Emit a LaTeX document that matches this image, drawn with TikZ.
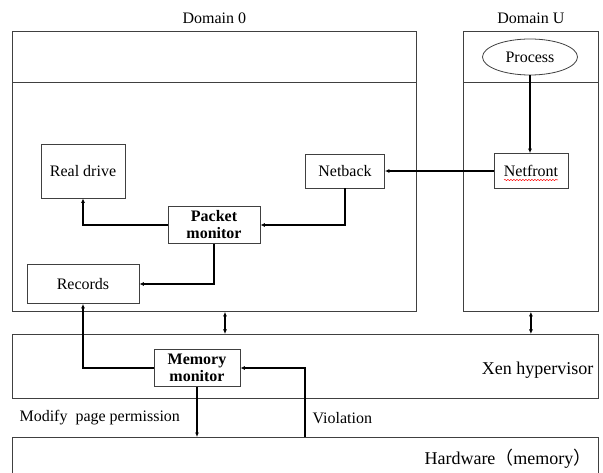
\documentclass[tikz,border=0pt]{standalone}
\usepackage{fontspec}
\setmainfont{Liberation Serif}
\newfontfamily\cjk{Noto Sans CJK SC}
\usetikzlibrary{
  arrows.meta,
  positioning,  % Function "of" (e.g. [above=of x])
  shapes.geometric, % Ellipse
  decorations.pathmorphing, % Wavy underline
}
\tikzset{
  font=\fontsize{16}{17}\selectfont,
  >={Latex[length=4.5pt,width=4pt]},
  layer/.style={
    draw=black!75,
    line width=0.8pt,
    inner sep=0pt,
    anchor=north west
  },
  my box/.style={
    draw=black!75,
    line width=0.8pt,
    inner sep=0pt,
    align=center,
    rectangle
  },
  flow/.style={
    ->,
    line width=1.2pt
  },
  both ways/.style={
    <->,
    line width=1.2pt
  },
  big text/.style={
    font=\fontsize{18}{20}\selectfont
  }
}

\begin{document}
\begin{tikzpicture}[x=1pt,y=-1pt]
\useasboundingbox (0,0) rectangle (603,473);
\clip (0,0) rectangle (603,473);
% layers
\node[layer,minimum width=404pt,minimum height=280pt] (dom0) at (12,31)  {};
\node[layer,minimum width=135pt,minimum height=280pt] (domU) at (463,31) {};
\node[layer,minimum width=586pt,minimum height=64pt]  (xen)  at (12,334) {};
\node[layer,minimum width=586pt,minimum height=60pt]  (hw)   at (12,437) {};
\node[above=4pt of dom0] (dom0lbl) {Domain 0};
\node[above=4pt of domU] (domUlbl) {Domain U};
\draw[draw=black!75,line width=0.8pt]
  ([yshift=-51pt]dom0.north west) -- ([yshift=-51pt]dom0.north east)
  ([yshift=-51pt]domU.north west) -- ([yshift=-51pt]domU.north east);
\node[big text,anchor=east] (xenlbl) at (597,370) {Xen hypervisor};
\node[big text,anchor=east] (hwlbl)  at (595,459) {Hardware{\cjk （}memory{\cjk ）}};
% components
\node[my box,ellipse,minimum width=95pt,minimum height=36pt] (proc)     at (530,57)  {Process};
\node[my box,minimum width=74pt,minimum height=35pt]         (netfront) at (531,171) {Netfront};
\node[my box,minimum width=79pt,minimum height=34pt]         (netback)  at (345,171) {Netback};
\node[my box,minimum width=84pt,minimum height=54pt]         (realdrv)  at (83,171)  {Real drive};
\node[my box,minimum width=92pt,minimum height=37pt,font=\fontsize{16}{17}\selectfont\bfseries]
                                                             (pktmon)   at (214,225) {Packet\\monitor};
\node[my box,minimum width=112pt,minimum height=39pt]        (records)  at (83,284)  {Records};
\node[my box,minimum width=86pt,minimum height=37pt,font=\fontsize{16}{17}\selectfont\bfseries]
                                                             (memmon)   at (197,368) {Memory\\monitor};
\draw[red,line width=0.5pt,decorate,decoration={snake,amplitude=0.6pt,segment length=3pt}]
  ([xshift=-27pt,yshift=-9pt]netfront.center) -- ([xshift=27pt,yshift=-9pt]netfront.center);
% connectors
\draw[flow] (proc.south) -- (proc.south |- netfront.north);
\draw[flow] (netfront) -- (netback);
\draw[flow] (netback.south) |- (pktmon.east);
\draw[flow] (pktmon.west) -| (realdrv.south);
\draw[flow] (pktmon.south) |- (records.east);
\coordinate (d0) at ([xshift=213pt]dom0.south west);
\draw[both ways] (d0) -- (d0 |- xen.north);
\draw[both ways] (domU.south) -- (domU.south |- xen.north);
\draw[flow] (memmon.west) -| (records.south);
\draw[flow] (memmon.south) -- (memmon.south |- hw.north);
\coordinate (viol) at ([xshift=293pt]hw.north west);
\draw[flow] (viol) |- (memmon.east);
% labels
\node[anchor=west] (modlbl)  at (16,418)  {Modify\ \ page permission};
\node[anchor=west] (viollbl) at (309,418) {Violation};
\end{tikzpicture}
\end{document}
